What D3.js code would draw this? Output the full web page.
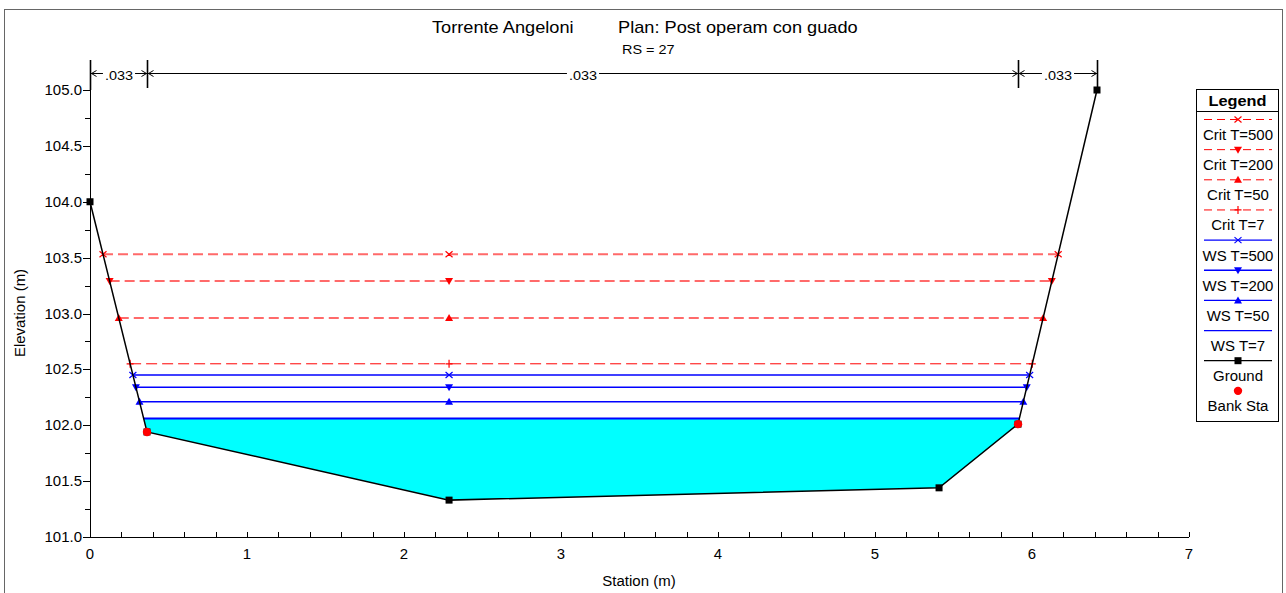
<!DOCTYPE html>
<html><head><meta charset="utf-8">
<script src="https://cdn.jsdelivr.net/npm/d3@7/dist/d3.min.js"></script>
<style>
html,body{margin:0;padding:0;background:#fff;}
text{font-family:"Liberation Sans",Arial,sans-serif;fill:#000;}
</style></head>
<body><svg id="c" width="1286" height="593"></svg>
<script>
// ---- data ----
const groundSta  = [0, 0.363, 2.287, 5.408, 5.911, 6.414];
const groundElev = [104.0, 101.94, 101.33, 101.44, 102.01, 105.0];
const bankSta  = [0.363, 5.911];
const bankElev = [101.94, 102.01];
const profileNames = ["Crit T=500","Crit T=200","Crit T=50","Crit T=7","WS T=500","WS T=200","WS T=50","WS T=7"];
const profileElev  = [103.53, 103.29, 102.96, 102.55, 102.45, 102.34, 102.21, 102.06];
const markerSta = 2.287;
const nBreaks = [0, 0.363, 5.911, 6.414];
const nValues = [".033", ".033", ".033"];
const xTicks = [0,1,2,3,4,5,6,7];
const yTicks = [101.0,101.5,102.0,102.5,103.0,103.5,104.0,104.5,105.0];
const titleMain = "Torrente Angeloni";
const titlePlan = "Plan: Post operam con guado";
const titleRS = "RS = 27";

// ---- styles ----
const styles = {
  "Crit T=500": {stroke:"#ff6a6a", w:2, dash:"10,5", marker:"x", color:"#ff0000"},
  "Crit T=200": {stroke:"#ff6a6a", w:2, dash:"10,5", marker:"down", color:"#ff0000"},
  "Crit T=50":  {stroke:"#ff6a6a", w:2, dash:"10,5", marker:"up", color:"#ff0000"},
  "Crit T=7":   {stroke:"#ff0000", w:1, dash:"11,5", marker:"plus", color:"#ff0000"},
  "WS T=500":   {stroke:"#0000ff", w:1.6, dash:null, marker:"x", color:"#0000ff"},
  "WS T=200":   {stroke:"#0000ff", w:1.6, dash:null, marker:"down", color:"#0000ff"},
  "WS T=50":    {stroke:"#0000ff", w:1.6, dash:null, marker:"up", color:"#0000ff"},
  "WS T=7":     {stroke:"#0000ff", w:2, dash:null, marker:null, color:"#0000ff"}
};
const K = 1.07;

const svg = d3.select("#c");
const x = d3.scaleLinear().domain([0,7]).range([90,1189]);
const y = d3.scaleLinear().domain([101,105]).range([537,90]);

// outer frame
svg.append("rect").attr("x",4.5).attr("y",9.5).attr("width",1278).attr("height",620)
  .attr("fill","none").attr("stroke","#666").attr("stroke-width",1);

const ground = groundSta.map((s,i)=>[s,groundElev[i]]);

function crossings(level){
  const pts=[];
  for(let i=0;i<ground.length-1;i++){
    const [s0,e0]=ground[i],[s1,e1]=ground[i+1];
    if((e0-level)*(e1-level)<=0 && e0!==e1){
      const t=(level-e0)/(e1-e0);
      pts.push(s0+t*(s1-s0));
    }
  }
  return [pts[0], pts[pts.length-1]];
}

// water fill below lowest WS
const wsLow = profileElev[profileElev.length-1];
const [wl, wr] = crossings(wsLow);
const fillPts = [[wl,wsLow]].concat(ground.filter(p=>p[0]>wl&&p[0]<wr)).concat([[wr,wsLow]]);
svg.append("path").attr("d", d3.line().x(d=>x(d[0])).y(d=>y(d[1]))(fillPts)+"Z")
  .attr("fill","#00ffff").attr("stroke","none");

// axes
const gx = svg.append("g").attr("transform","translate(0,537)");
gx.append("line").attr("x1",x(0)).attr("x2",x(7)).attr("y1",0.5).attr("y2",0.5).attr("stroke","#000");
const xMinor = d3.range(0,7.0001,0.2);
gx.selectAll("line.mt").data(xMinor).enter().append("line")
  .attr("x1",d=>Math.round(x(d))+0.5).attr("x2",d=>Math.round(x(d))+0.5).attr("y1",0).attr("y2",-5).attr("stroke","#000");
gx.selectAll("text").data(xTicks).enter().append("text").attr("class","s")
  .attr("x",d=>x(d)).attr("y",22).attr("text-anchor","middle").attr("font-size",14).text(d=>d);

const gy = svg.append("g").attr("transform","translate(90,0)");
gy.append("line").attr("x1",0.5).attr("x2",0.5).attr("y1",y(105)).attr("y2",y(101)).attr("stroke","#000");
const yMinor = d3.range(101,105.0001,0.25);
gy.selectAll("line.mt").data(yMinor).enter().append("line")
  .attr("x1",0).attr("x2",d=> (Math.abs(d*2-Math.round(d*2))<1e-6)?-7:-5)
  .attr("y1",d=>Math.round(y(d))+0.5).attr("y2",d=>Math.round(y(d))+0.5).attr("stroke","#000");
gy.selectAll("text").data(yTicks).enter().append("text").attr("class","s")
  .attr("x",-8).attr("y",d=>y(d)).attr("dy","0.36em").attr("text-anchor","end").attr("font-size",14)
  .text(d=>d3.format(".1f")(d));

svg.append("text").attr("class","s").attr("transform","translate(25,313) rotate(-90)")
  .attr("text-anchor","middle").attr("font-size",14).text("Elevation (m)");
svg.append("text").attr("class","s").attr("x",639).attr("y",586)
  .attr("text-anchor","middle").attr("font-size",14).text("Station (m)");

// titles
svg.append("text").attr("class","s").attr("x",432).attr("y",33).attr("font-size",17).text(titleMain);
svg.append("text").attr("class","s").attr("x",618).attr("y",33).attr("font-size",17).text(titlePlan);
svg.append("text").attr("class","s").attr("x",622).attr("y",53.5).attr("font-size",13.5).text(titleRS);

// n-value bar
const nb = svg.append("g");
const ny = 73.5;
nb.selectAll("line.tk").data(nBreaks).enter().append("line")
  .attr("x1",d=>Math.round(x(d))+0.5).attr("x2",d=>Math.round(x(d))+0.5)
  .attr("y1",60).attr("y2",(d,i)=> i===0?90:88).attr("stroke","#000").attr("stroke-width",1.6);
nValues.forEach((v,i)=>{
  const a=Math.round(x(nBreaks[i]))+0.5, b=Math.round(x(nBreaks[i+1]))+0.5;
  nb.append("line").attr("x1",a).attr("x2",b).attr("y1",ny).attr("y2",ny).attr("stroke","#000");
  nb.append("path").attr("d",`M${a+6},${ny-3}L${a+1},${ny}L${a+6},${ny+3}`).attr("fill","none").attr("stroke","#000");
  nb.append("path").attr("d",`M${b-6},${ny-3}L${b-1},${ny}L${b-6},${ny+3}`).attr("fill","none").attr("stroke","#000");
  const t = nb.append("text").attr("class","s").attr("x",(a+b)/2).attr("y",79.5)
    .attr("text-anchor","middle").attr("font-size",13.5).text(v);
  t.attr("data-bg","1");
});

// marker drawing
function marker(g, type, cx, cy, color){
  if(type==="x"){
    g.append("path").attr("d",`M${cx-3.5},${cy-3}L${cx+3.5},${cy+3}M${cx-3.5},${cy+3}L${cx+3.5},${cy-3}`)
      .attr("stroke",color).attr("stroke-width",1.2).attr("fill","none");
  } else if(type==="plus"){
    g.append("path").attr("d",`M${cx-3.5},${cy}L${cx+3.5},${cy}M${cx},${cy-4}L${cx},${cy+4}`)
      .attr("stroke",color).attr("stroke-width",1.2).attr("fill","none");
  } else if(type==="down"){
    g.append("path").attr("d",`M${cx-4},${cy-3}L${cx+4},${cy-3}L${cx},${cy+4}Z`).attr("fill",color);
  } else if(type==="up"){
    g.append("path").attr("d",`M${cx-4},${cy+3}L${cx+4},${cy+3}L${cx},${cy-4}Z`).attr("fill",color);
  } else if(type==="square"){
    g.append("rect").attr("x",cx-3.5).attr("y",cy-3.5).attr("width",7).attr("height",7).attr("fill",color);
  } else if(type==="circle"){
    g.append("circle").attr("cx",cx).attr("cy",cy).attr("r",4.2).attr("fill",color);
  }
}

// profile lines
const pg = svg.append("g");
profileNames.forEach((name,i)=>{
  const lev = profileElev[i], st = styles[name];
  const [l,r] = crossings(lev);
  const yy = y(lev);
  pg.append("line").attr("x1",x(l)).attr("x2",x(r)).attr("y1",yy).attr("y2",yy)
    .attr("stroke",st.stroke).attr("stroke-width",st.w).attr("stroke-dasharray",st.dash);
  if(st.marker){
    [l, markerSta, r].forEach(s=>marker(pg, st.marker, x(s), yy, st.color));
  }
});

// ground
svg.append("path").attr("d",d3.line().x(d=>x(d[0])).y(d=>y(d[1]))(ground))
  .attr("fill","none").attr("stroke","#000").attr("stroke-width",1.5);
const gm = svg.append("g");
ground.forEach(p=>marker(gm,"square",x(p[0]),y(p[1]),"#000"));
bankSta.forEach((s,i)=>marker(gm,"circle",x(s),y(bankElev[i]),"#ff0000"));

// legend
const lg = svg.append("g");
lg.append("rect").attr("x",1196.5).attr("y",89.5).attr("width",82).attr("height",332)
  .attr("fill","#fff").attr("stroke","#000");
lg.append("line").attr("x1",1196.5).attr("x2",1278.5).attr("y1",111.5).attr("y2",111.5).attr("stroke","#000");
lg.append("text").attr("x",1237.5).attr("y",106).attr("text-anchor","middle").attr("font-size",14)
  .attr("font-weight","bold").attr("textLength",58).attr("lengthAdjust","spacingAndGlyphs").text("Legend");
const legNames = profileNames.concat(["Ground","Bank Sta"]);
const lx0=1204, lx1=1272, lcx=1238;
legNames.forEach((name,i)=>{
  const ly = 119.5 + i*30.15;
  if(styles[name]){
    const st=styles[name];
    lg.append("line").attr("x1",lx0).attr("x2",lx1).attr("y1",ly).attr("y2",ly)
      .attr("stroke",st.dash?"#ff0000":st.stroke).attr("stroke-width",st.dash?1:1.3)
      .attr("stroke-dasharray",st.dash?"8,5":null);
    if(st.marker) marker(lg, st.marker, lcx, ly, st.color);
  } else if(name==="Ground"){
    lg.append("line").attr("x1",lx0).attr("x2",lx1).attr("y1",ly).attr("y2",ly).attr("stroke","#000").attr("stroke-width",1.3);
    marker(lg,"square",lcx,ly,"#000");
  } else {
    marker(lg,"circle",lcx,ly,"#ff0000");
  }
  lg.append("text").attr("class","s").attr("x",lcx).attr("y",ly+20.5).attr("text-anchor","middle")
    .attr("font-size",14).text(name);
});

// stretch texts horizontally
d3.selectAll("text.s").each(function(){
  const w=this.getComputedTextLength();
  this.setAttribute("textLength", (w*K).toFixed(1));
  this.setAttribute("lengthAdjust","spacingAndGlyphs");
});
// white background behind n-values
d3.selectAll("text[data-bg]").each(function(){
  const bb=this.getBBox();
  d3.select(this.parentNode).insert("rect",()=>this).attr("x",bb.x-2).attr("y",bb.y).attr("width",bb.width+4).attr("height",bb.height).attr("fill","#fff");
});
</script></body></html>
